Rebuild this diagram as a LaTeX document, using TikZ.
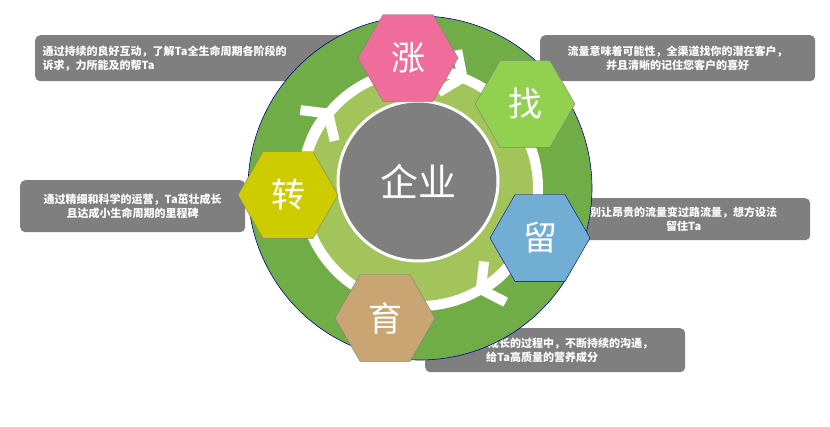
\documentclass[tikz,border=0pt]{standalone}
\usepackage{fontspec}
\setmainfont{Noto Sans CJK SC}
\usetikzlibrary{shapes.geometric,arrows.meta,calc}
\definecolor{dgreen}{HTML}{70AD47}
\definecolor{lgreen}{HTML}{A2C45A}
\definecolor{cgray}{HTML}{7F7F7F}
\definecolor{cpink}{HTML}{F06C9B}
\definecolor{cgr}{HTML}{92D050}
\definecolor{cblue}{HTML}{72AED3}
\definecolor{ctan}{HTML}{C9A573}
\definecolor{cyel}{HTML}{CCCC00}
\tikzset{
  callout/.style={fill=cgray,rounded corners=5pt,text=white,font=\bfseries\fontsize{11}{14}\selectfont,inner sep=4pt},
  hexa/.style={regular polygon,regular polygon sides=6,shape border rotate=0,minimum size=100pt,inner sep=0pt,draw=gray,text=white,font=\fontsize{34}{36}\selectfont},
  warr/.style={white,line width=11pt,-{Straight Barb[length=16pt,width=46pt,line width=10pt]}}
}
\begin{document}
\begin{tikzpicture}[x=1pt,y=-1pt]
\useasboundingbox (0,0) rectangle (830,426);
\fill[white] (0,0) rectangle (830,426);
\node[callout,minimum width=310pt,minimum height=46pt,text width=295pt,align=left,anchor=north west] (c1) at (35,35) {通过持续的良好互动，了解Ta全生命周期各阶段的\\诉求，力所能及的帮Ta};
\node[callout,minimum width=275pt,minimum height=46pt,align=center,anchor=north west] (c2) at (540,35) {流量意味着可能性，全渠道找你的潜在客户，\\并且清晰的记住您客户的喜好};
\node[callout,minimum width=225pt,minimum height=52pt,align=center,anchor=north west] (c3) at (20,180) {通过精细和科学的运营，Ta茁壮成长\\且达成小生命周期的里程碑};
\node[callout,minimum width=230pt,minimum height=42pt,anchor=north west] (c4) at (580,198) {};
\node[anchor=west,text=white,font=\bfseries\fontsize{11}{14}\selectfont,align=center,inner sep=0pt] (t4) at (590,219) {别让昂贵的流量变过路流量，想方设法\\留住Ta};
\node[callout,minimum width=260pt,minimum height=44pt,anchor=north west] (c5) at (425,328) {};
\node[anchor=west,text=white,font=\bfseries\fontsize{11}{14}\selectfont,align=center,inner sep=0pt] (t5) at (431,350) {别忘记在Ta成长的过程中，不断持续的沟通，\\给Ta高质量的营养成分};
\coordinate (c) at (420,188);
\fill[dgreen,draw=blue!60!black,line width=0.6pt] (c) circle (172);
\fill[lgreen] (c) circle (115);
\draw[white,line width=10pt] (c) circle (118);
\draw[warr] ($(c)+(178:118)$) arc (178:222:118);
\draw[warr] ($(c)+(270:118)$) arc (270:294:118);
\draw[warr] ($(c)+(15:118)$) arc (15:62:118);
\node[circle,fill=cgray,draw=white,line width=3pt,minimum size=160pt,text=white,font=\fontsize{38}{40}\selectfont] (core) at (418,181) {企业};
\node[hexa,fill=cpink] (h1) at (408,58) {涨};
\node[hexa,fill=cgr] (h2) at (525,104) {找};
\node[hexa,fill=cblue,draw=blue!60!black] (h3) at (540,238) {留};
\node[hexa,fill=ctan] (h4) at (385,318) {育};
\node[hexa,fill=cyel] (h5) at (288,195) {转};
\end{tikzpicture}
\end{document}
